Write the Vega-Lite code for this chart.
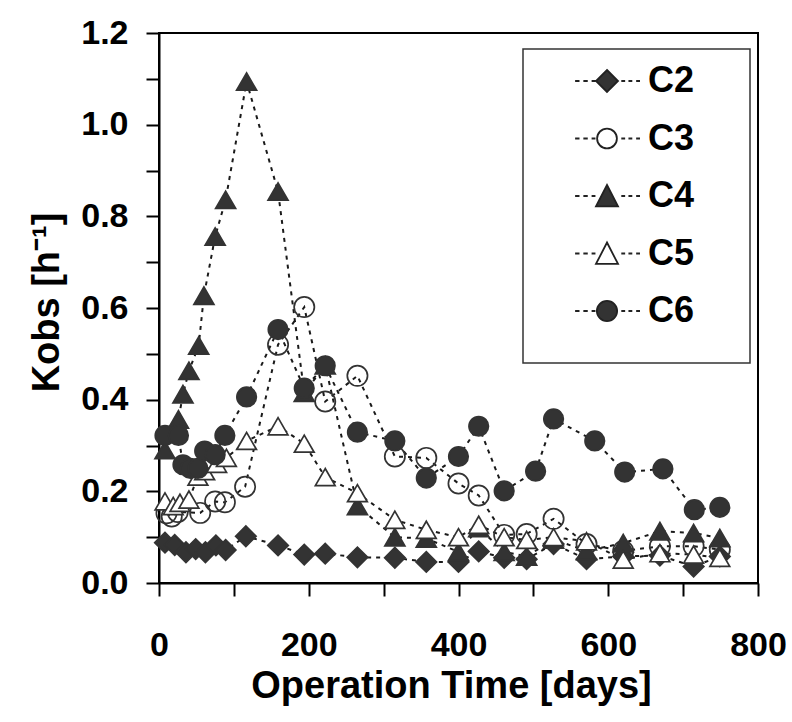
{
  "$schema": "https://vega.github.io/schema/vega-lite/v6.json",
  "width": 599,
  "height": 550,
  "autosize": {"type": "none"},
  "padding": {"left": 159, "top": 33, "right": 34, "bottom": 139},
  "background": "white",
  "config": {
    "view": {"stroke": "black", "strokeWidth": 2},
    "font": "Liberation Sans",
    "legend": {"strokeWidth": 1.5},
    "axis": {
      "grid": false,
      "domainColor": "black",
      "domainWidth": 2,
      "tickColor": "black",
      "tickWidth": 2,
      "tickSize": 13,
      "labelFont": "Liberation Sans",
      "labelFontSize": 34,
      "labelFontWeight": "bold",
      "labelColor": "black",
      "labelFlush": false,
      "labelOverlap": false,
      "titleFont": "Liberation Sans",
      "titleFontSize": 38,
      "titleFontWeight": "bold",
      "titleColor": "black"
    }
  },
  "data": {
    "values": [
      {"series": "C2", "day": 8, "k": 0.088},
      {"series": "C2", "day": 21, "k": 0.083},
      {"series": "C2", "day": 36, "k": 0.067},
      {"series": "C2", "day": 49, "k": 0.074},
      {"series": "C2", "day": 62, "k": 0.067},
      {"series": "C2", "day": 76, "k": 0.082},
      {"series": "C2", "day": 89, "k": 0.072},
      {"series": "C2", "day": 116, "k": 0.102},
      {"series": "C2", "day": 159, "k": 0.082},
      {"series": "C2", "day": 194, "k": 0.062},
      {"series": "C2", "day": 222, "k": 0.064},
      {"series": "C2", "day": 265, "k": 0.056},
      {"series": "C2", "day": 315, "k": 0.055},
      {"series": "C2", "day": 357, "k": 0.046},
      {"series": "C2", "day": 400, "k": 0.046},
      {"series": "C2", "day": 427, "k": 0.069},
      {"series": "C2", "day": 461, "k": 0.055},
      {"series": "C2", "day": 491, "k": 0.052},
      {"series": "C2", "day": 527, "k": 0.085},
      {"series": "C2", "day": 571, "k": 0.052},
      {"series": "C2", "day": 620, "k": 0.058},
      {"series": "C2", "day": 669, "k": 0.06},
      {"series": "C2", "day": 714, "k": 0.036},
      {"series": "C2", "day": 749, "k": 0.058},
      {"series": "C3", "day": 10, "k": 0.152},
      {"series": "C3", "day": 17, "k": 0.145},
      {"series": "C3", "day": 25, "k": 0.155},
      {"series": "C3", "day": 55, "k": 0.153},
      {"series": "C3", "day": 75, "k": 0.178},
      {"series": "C3", "day": 88, "k": 0.176},
      {"series": "C3", "day": 115, "k": 0.21},
      {"series": "C3", "day": 159, "k": 0.52},
      {"series": "C3", "day": 194, "k": 0.602},
      {"series": "C3", "day": 222, "k": 0.396},
      {"series": "C3", "day": 265, "k": 0.452},
      {"series": "C3", "day": 315, "k": 0.276},
      {"series": "C3", "day": 357, "k": 0.273},
      {"series": "C3", "day": 400, "k": 0.217},
      {"series": "C3", "day": 427, "k": 0.191},
      {"series": "C3", "day": 461, "k": 0.105},
      {"series": "C3", "day": 491, "k": 0.107},
      {"series": "C3", "day": 527, "k": 0.14},
      {"series": "C3", "day": 571, "k": 0.085},
      {"series": "C3", "day": 620, "k": 0.07},
      {"series": "C3", "day": 669, "k": 0.08},
      {"series": "C3", "day": 714, "k": 0.08},
      {"series": "C3", "day": 749, "k": 0.073},
      {"series": "C4", "day": 8, "k": 0.29},
      {"series": "C4", "day": 26, "k": 0.357},
      {"series": "C4", "day": 32, "k": 0.412},
      {"series": "C4", "day": 40, "k": 0.463},
      {"series": "C4", "day": 53, "k": 0.518},
      {"series": "C4", "day": 60, "k": 0.627},
      {"series": "C4", "day": 75, "k": 0.756},
      {"series": "C4", "day": 89, "k": 0.836},
      {"series": "C4", "day": 117, "k": 1.094},
      {"series": "C4", "day": 159, "k": 0.854},
      {"series": "C4", "day": 194, "k": 0.415},
      {"series": "C4", "day": 222, "k": 0.475},
      {"series": "C4", "day": 265, "k": 0.168},
      {"series": "C4", "day": 315, "k": 0.1},
      {"series": "C4", "day": 357, "k": 0.097},
      {"series": "C4", "day": 400, "k": 0.068},
      {"series": "C4", "day": 427, "k": 0.12},
      {"series": "C4", "day": 461, "k": 0.068},
      {"series": "C4", "day": 491, "k": 0.058},
      {"series": "C4", "day": 527, "k": 0.095},
      {"series": "C4", "day": 571, "k": 0.07},
      {"series": "C4", "day": 620, "k": 0.087},
      {"series": "C4", "day": 669, "k": 0.113},
      {"series": "C4", "day": 714, "k": 0.109},
      {"series": "C4", "day": 749, "k": 0.098},
      {"series": "C5", "day": 8, "k": 0.178},
      {"series": "C5", "day": 19, "k": 0.168},
      {"series": "C5", "day": 28, "k": 0.175},
      {"series": "C5", "day": 40, "k": 0.182},
      {"series": "C5", "day": 52, "k": 0.232},
      {"series": "C5", "day": 61, "k": 0.244},
      {"series": "C5", "day": 77, "k": 0.26},
      {"series": "C5", "day": 90, "k": 0.273},
      {"series": "C5", "day": 117, "k": 0.31},
      {"series": "C5", "day": 159, "k": 0.342},
      {"series": "C5", "day": 194, "k": 0.304},
      {"series": "C5", "day": 222, "k": 0.231},
      {"series": "C5", "day": 265, "k": 0.196},
      {"series": "C5", "day": 315, "k": 0.138},
      {"series": "C5", "day": 357, "k": 0.116},
      {"series": "C5", "day": 400, "k": 0.1},
      {"series": "C5", "day": 427, "k": 0.127},
      {"series": "C5", "day": 461, "k": 0.1},
      {"series": "C5", "day": 491, "k": 0.094},
      {"series": "C5", "day": 527, "k": 0.1},
      {"series": "C5", "day": 571, "k": 0.091},
      {"series": "C5", "day": 620, "k": 0.051},
      {"series": "C5", "day": 669, "k": 0.065},
      {"series": "C5", "day": 714, "k": 0.062},
      {"series": "C5", "day": 749, "k": 0.055},
      {"series": "C6", "day": 8, "k": 0.322},
      {"series": "C6", "day": 26, "k": 0.322},
      {"series": "C6", "day": 32, "k": 0.258},
      {"series": "C6", "day": 42, "k": 0.25},
      {"series": "C6", "day": 52, "k": 0.25},
      {"series": "C6", "day": 61, "k": 0.288},
      {"series": "C6", "day": 75, "k": 0.28},
      {"series": "C6", "day": 88, "k": 0.322},
      {"series": "C6", "day": 117, "k": 0.406},
      {"series": "C6", "day": 159, "k": 0.553},
      {"series": "C6", "day": 194, "k": 0.425},
      {"series": "C6", "day": 222, "k": 0.474},
      {"series": "C6", "day": 265, "k": 0.329},
      {"series": "C6", "day": 315, "k": 0.31},
      {"series": "C6", "day": 357, "k": 0.229},
      {"series": "C6", "day": 400, "k": 0.276},
      {"series": "C6", "day": 427, "k": 0.342},
      {"series": "C6", "day": 461, "k": 0.201},
      {"series": "C6", "day": 503, "k": 0.244},
      {"series": "C6", "day": 527, "k": 0.358},
      {"series": "C6", "day": 582, "k": 0.31},
      {"series": "C6", "day": 622, "k": 0.242},
      {"series": "C6", "day": 673, "k": 0.249},
      {"series": "C6", "day": 715, "k": 0.16},
      {"series": "C6", "day": 749, "k": 0.165}
    ]
  },
  "encoding": {
    "x": {
      "field": "day",
      "type": "quantitative",
      "scale": {"domain": [0, 800], "nice": false},
      "axis": {
        "title": "Operation Time [days]",
        "values": [0, 100, 200, 300, 400, 500, 600, 700, 800],
        "labelExpr": "datum.value % 200 === 0 ? datum.label : ''",
        "labelPadding": 32,
        "titleX": 292,
        "titleY": 114,
        "titleAlign": "center",
        "titleBaseline": "alphabetic"
      }
    },
    "y": {
      "field": "k",
      "type": "quantitative",
      "scale": {"domain": [0, 1.2], "nice": false},
      "axis": {
        "title": "Kobs [h⁻¹]",
        "values": [0, 0.1, 0.2, 0.3, 0.4, 0.5, 0.6, 0.7, 0.8, 0.9, 1.0, 1.1, 1.2],
        "labelExpr": "round(datum.value * 10) % 2 === 0 ? format(datum.value, '.1f') : ''",
        "labelPadding": 18,
        "titleAngle": -90,
        "titleX": -101,
        "titleY": 269,
        "titleAlign": "center",
        "titleBaseline": "alphabetic"
      }
    }
  },
  "layer": [
    {
      "mark": {"type": "line", "stroke": "#1a1a1a", "strokeWidth": 2, "strokeDash": [4, 5]},
      "encoding": {"detail": {"field": "series", "type": "nominal"}}
    },
    {
      "mark": {"type": "point", "filled": true, "stroke": "#333333", "strokeWidth": 1.7, "opacity": 1},
      "encoding": {
        "shape": {
          "field": "series",
          "type": "nominal",
          "scale": {"domain": ["C2", "C3", "C4", "C5", "C6"], "range": ["diamond", "circle", "triangle-up", "triangle-up", "circle"]},
          "legend": null
        },
        "fill": {
          "field": "series",
          "type": "nominal",
          "scale": {"domain": ["C2", "C3", "C4", "C5", "C6"], "range": ["#333333", "transparent", "#333333", "white", "#333333"]},
          "legend": null
        },
        "size": {
          "field": "series",
          "type": "nominal",
          "scale": {"domain": ["C2", "C3", "C4", "C5", "C6"], "range": [420, 380, 450, 450, 400]},
          "legend": null
        }
      }
    },
    {
      "transform": [{"filter": "false"}],
      "mark": {"type": "point", "filled": true, "strokeWidth": 1.7, "opacity": 1},
      "encoding": {
        "shape": {
          "field": "series",
          "type": "nominal",
          "scale": {
            "domain": ["C2", "C3", "C4", "C5", "C6"],
            "range": [
              "M0,-1L1,0L0,1L-1,0ZM-2.9,0L-2.5,0M-2.15,0L-1.75,0M-1.4,0L-1.05,0M1.3,0L1.65,0M1.95,0L2.3,0M2.65,0L3,0M11.4,0",
              "M0.9,0A0.9,0.9,0,1,1,-0.9,0A0.9,0.9,0,1,1,0.9,0ZM-2.9,0L-2.5,0M-2.15,0L-1.75,0M-1.4,0L-1.05,0M1.3,0L1.65,0M1.95,0L2.3,0M2.65,0L3,0M11.4,0",
              "M0,-1L1,0.95L-1,0.95ZM-2.9,0L-2.5,0M-2.15,0L-1.75,0M-1.4,0L-1.05,0M1.3,0L1.65,0M1.95,0L2.3,0M2.65,0L3,0M11.4,0",
              "M0,-1L1,0.95L-1,0.95ZM-2.9,0L-2.5,0M-2.15,0L-1.75,0M-1.4,0L-1.05,0M1.3,0L1.65,0M1.95,0L2.3,0M2.65,0L3,0M11.4,0",
              "M0.92,0A0.92,0.92,0,1,1,-0.92,0A0.92,0.92,0,1,1,0.92,0ZM-2.9,0L-2.5,0M-2.15,0L-1.75,0M-1.4,0L-1.05,0M1.3,0L1.65,0M1.95,0L2.3,0M2.65,0L3,0M11.4,0M0,3.1"
            ]
          },
          "legend": {
            "title": null,
            "orient": "none",
            "legendX": 364,
            "legendY": 16,
            "direction": "vertical",
            "symbolSize": 484,
            "symbolOffset": 52,
            "symbolStrokeWidth": 1.8,
            "symbolOpacity": 1,
            "labelFont": "Liberation Sans",
            "labelFontSize": 36,
            "labelFontWeight": "bold",
            "labelColor": "black",
            "labelOffset": 23,
            "labelLimit": 0,
            "rowPadding": 21.5,
            "padding": 14,
            "strokeColor": "#333333",
            "fillColor": "white",
            "encode": {
              "symbols": {
                "update": {
                  "strokeWidth": {"value": 1.8}
                }
              }
            }
          }
        },
        "fill": {
          "field": "series",
          "type": "nominal",
          "scale": {"domain": ["C2", "C3", "C4", "C5", "C6"], "range": ["#333333", "transparent", "#333333", "white", "#333333"]}
        },
        "stroke": {
          "field": "series",
          "type": "nominal",
          "scale": {"domain": ["C2", "C3", "C4", "C5", "C6"], "range": ["#222222", "#222222", "#222222", "#222222", "#222222"]}
        }
      }
    }
  ],
  "resolve": {"scale": {"shape": "independent", "fill": "independent", "size": "independent", "stroke": "independent"}}
}
